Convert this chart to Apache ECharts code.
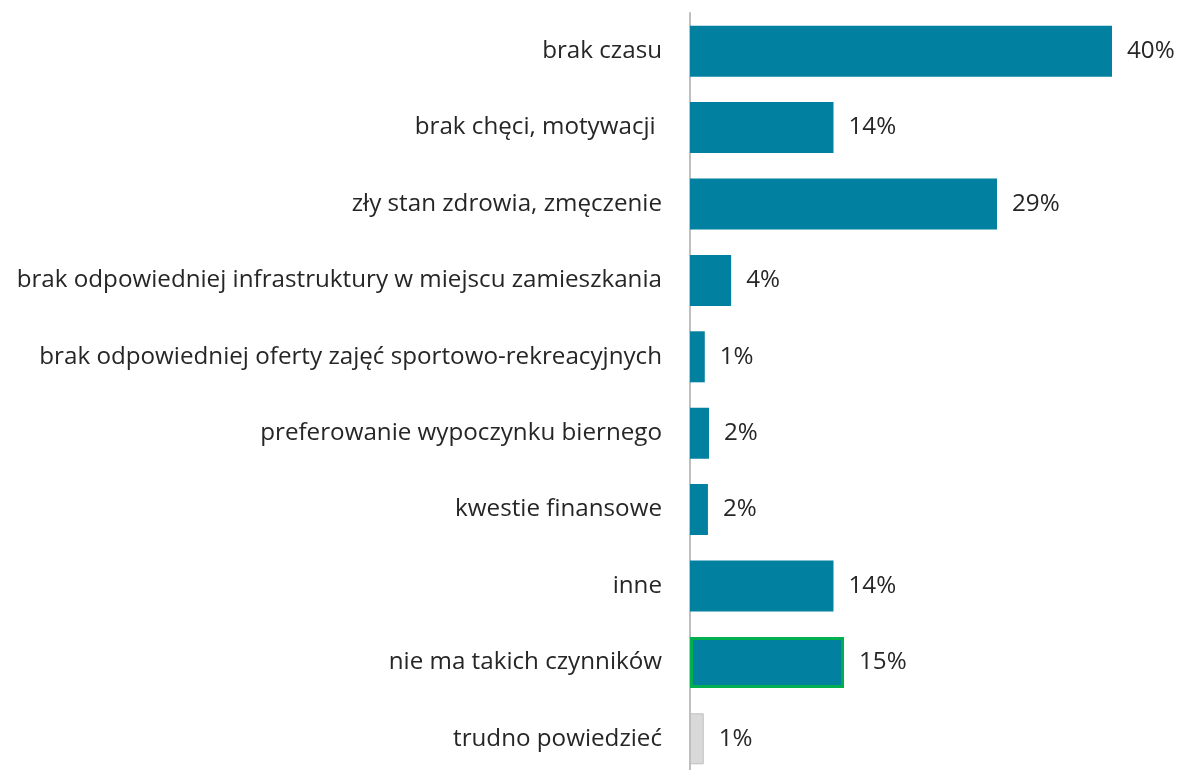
<!DOCTYPE html>
<html>
<head>
<meta charset="utf-8">
<script src="https://cdn.jsdelivr.net/npm/echarts@6/dist/echarts.min.js"></script>
<style>
  html, body { margin: 0; padding: 0; background: #fff; }
  #chart { width: 1181px; height: 770px; }
</style>
</head>
<body>
<div id="chart"></div>
<script>
// dane
var categories = [
  "brak czasu",
  "brak chęci, motywacji ",
  "zły stan zdrowia, zmęczenie",
  "brak odpowiedniej infrastruktury w miejscu zamieszkania",
  "brak odpowiedniej oferty zajęć sportowo-rekreacyjnych",
  "preferowanie wypoczynku biernego",
  "kwestie finansowe",
  "inne",
  "nie ma takich czynników",
  "trudno powiedzieć"
];
var values = [40, 13.6, 29.1, 3.9, 1.4, 1.8, 1.7, 13.6, 14.6, 1.3];
var valueLabels = ["40%", "14%", "29%", "4%", "1%", "2%", "2%", "14%", "15%", "1%"];

var FONT = "Open Sans";

var myChart = echarts.init(document.getElementById("chart"));
var option = {
  animation: false,
  grid: {
    left: 690,
    right: 69,
    top: 13,
    height: 764,
    containLabel: false,
    outerBoundsMode: "none"
  },
  xAxis: {
    type: "value",
    min: 0,
    max: 40,
    show: false
  },
  yAxis: {
    type: "category",
    inverse: true,
    data: categories,
    axisTick: { show: false },
    axisLine: {
      lineStyle: { color: "#bfbfbf", width: 2 }
    },
    axisLabel: {
      color: "#262626",
      fontSize: 24.2,
      fontFamily: FONT,
      margin: 28
    }
  },
  series: [
    {
      type: "bar",
      barWidth: 51,
      data: values.map(function (v, i) {
        var item = { value: v };
        if (i === 8) {
          item.itemStyle = { color: "#01809f", borderColor: "#00b050", borderWidth: 3 };
        } else if (i === 9) {
          item.itemStyle = { color: "#d9d9d9", borderColor: "#bfbfbf", borderWidth: 1 };
        }
        return item;
      }),
      itemStyle: { color: "#01809f" },
      label: {
        show: true,
        position: "right",
        distance: 15,
        color: "#262626",
        fontSize: 24.2,
        fontFamily: FONT,
        formatter: function (p) {
          return valueLabels[p.dataIndex];
        }
      }
    }
  ]
};
myChart.setOption(option);
window.addEventListener("resize", function () {
  myChart.resize();
});
</script>
</body>
</html>
